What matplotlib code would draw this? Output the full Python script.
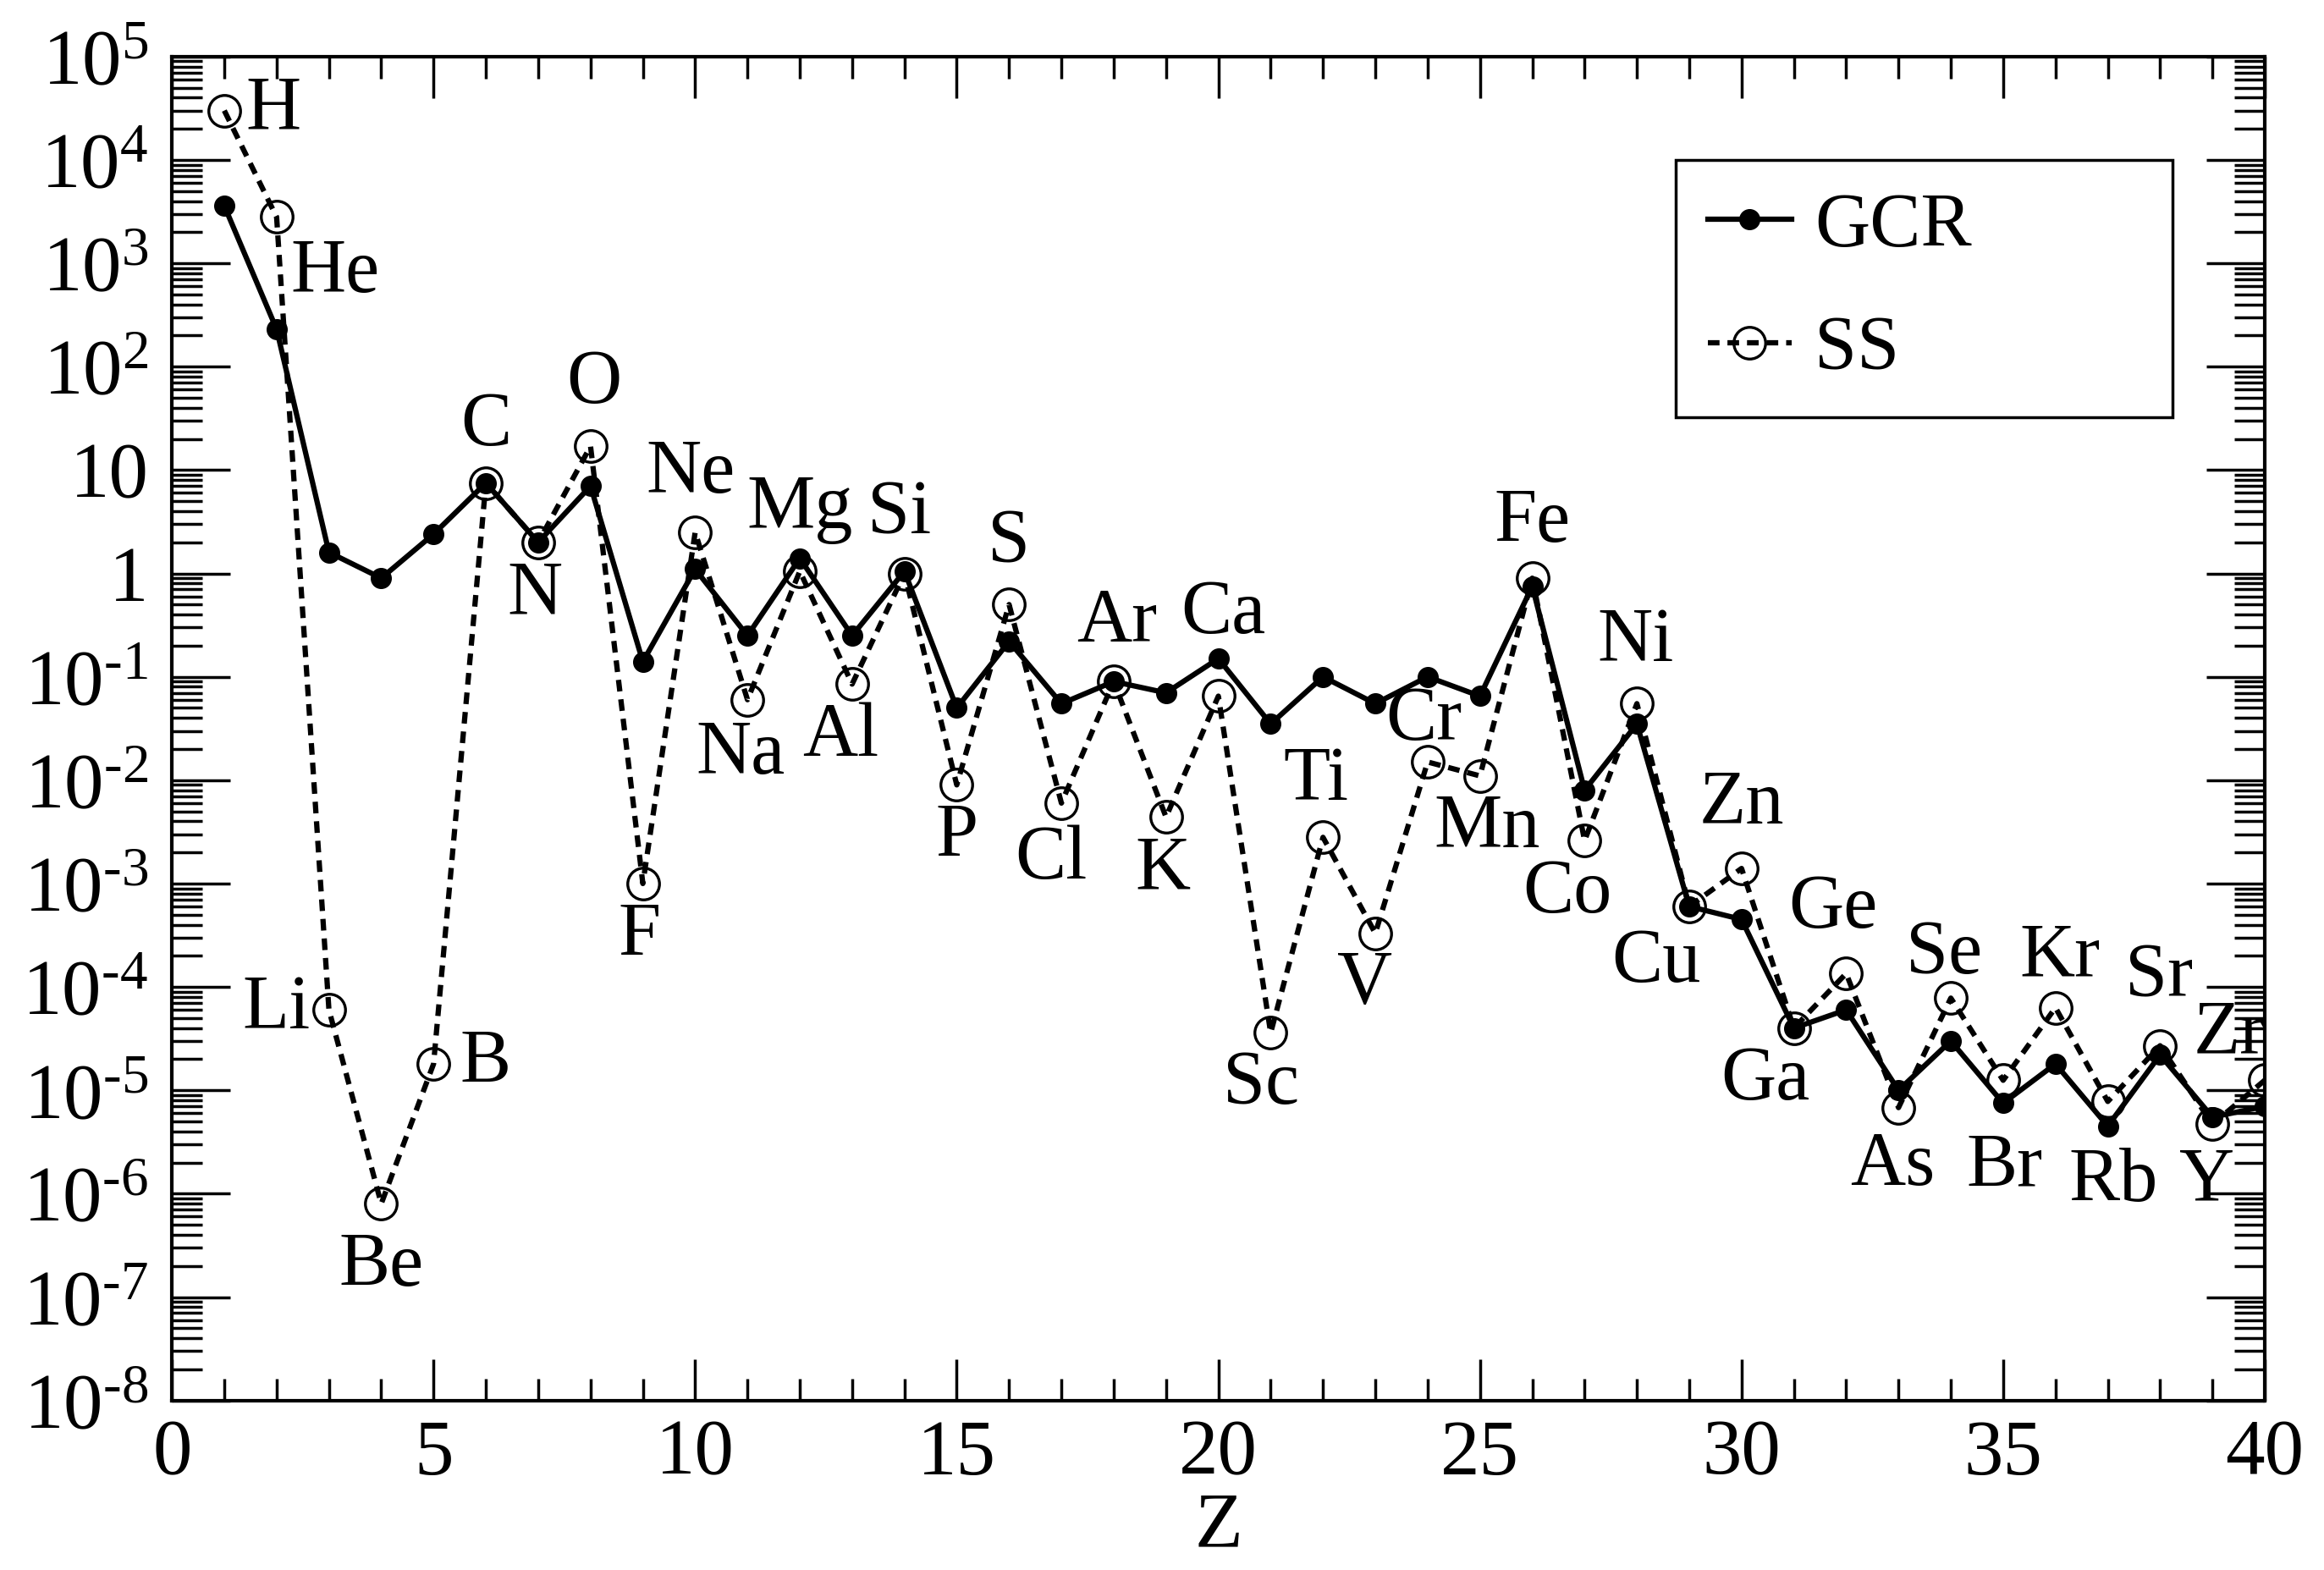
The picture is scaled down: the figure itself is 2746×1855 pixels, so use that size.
import matplotlib
matplotlib.use("Agg")
import numpy as np
import matplotlib.pyplot as plt
from matplotlib.ticker import LogLocator, FuncFormatter, MultipleLocator, NullFormatter

plt.rcParams["font.family"] = ["Liberation Serif", "DejaVu Serif"]
plt.rcParams["mathtext.fontset"] = "custom"
plt.rcParams["mathtext.rm"] = "Liberation Serif"
plt.rcParams["mathtext.it"] = "Liberation Serif:italic"

# Atomic number and element symbols
z = list(range(1, 41))
elements = ["H", "He", "Li", "Be", "B", "C", "N", "O", "F", "Ne",
            "Na", "Mg", "Al", "Si", "P", "S", "Cl", "Ar", "K", "Ca",
            "Sc", "Ti", "V", "Cr", "Mn", "Fe", "Co", "Ni", "Cu", "Zn",
            "Ga", "Ge", "As", "Se", "Br", "Kr", "Rb", "Sr", "Y", "Zr"]

# Galactic cosmic ray abundances (relative)
gcr = [3.6e3, 230, 1.6, 0.9, 2.4, 7.5, 2.0, 7.0, 0.14, 1.1,
       0.25, 1.4, 0.25, 1.05, 0.05, 0.22, 0.055, 0.09, 0.07, 0.15,
       0.035, 0.1, 0.055, 0.1, 0.065, 0.75, 0.008, 0.035, 6e-4, 4.5e-4,
       4e-5, 6e-5, 1e-5, 3e-5, 7.5e-6, 1.8e-5, 4.5e-6, 2.2e-5, 5.5e-6, 7e-6]

# Solar system abundances (relative)
ss = [3.0e4, 2.8e3, 6e-5, 8e-7, 1.8e-5, 7.5, 2.0, 17, 1e-3, 2.5,
      0.06, 1.05, 0.085, 1.0, 0.009, 0.5, 0.006, 0.09, 0.0044, 0.065,
      3.6e-5, 2.8e-3, 3.3e-4, 0.015, 0.011, 0.9, 2.6e-3, 0.055, 6e-4, 1.4e-3,
      4e-5, 1.35e-4, 6.8e-6, 7.8e-5, 1.25e-5, 6.3e-5, 7.8e-6, 2.7e-5, 4.7e-6, 1.25e-5]

# label offsets from the SS point, in points
label_offsets = [(42, 0), (50, -48), (-45, 0), (0, -54), (44, 0), (0, 48), (-3, -45), (3, 53), (-3, -45), (-4, 50),
                 (-6, -47), (0, 53), (-10, -45), (-4, 50), (0, -45), (0, 52), (-9, -48), (3, 50), (-3, -45), (4, 70),
                 (-8, -44), (-6, 48), (-9, -44), (-3, 35), (6, -45), (0, 47), (-15, -45), (-1, 52), (-28, -48), (0, 54),
                 (-24, -45), (-11, 55), (-5, -50), (-6, 37), (1, -74), (4, 43), (5, -69), (-1, 58), (-5, -49), (-30, 39)]


def ytick_fmt(val, pos):
    e = int(round(np.log10(val)))
    if e == 0:
        return "1"
    if e == 1:
        return "10"
    if e < 0:
        return "$10^{\u2010%d}$" % (-e)
    return "$10^{%d}$" % e


fig = plt.figure(figsize=(27.46, 18.55), dpi=100)
ax = fig.add_axes([0.074, 0.108, 0.9005, 0.856])

ax.plot(z, ss, linestyle=(0, (2.2, 1.5)), color="black", lw=4.5, marker="o",
        markersize=27, markerfacecolor="none", markeredgewidth=2.4, label="SS", zorder=2)
ax.plot(z, gcr, linestyle="-", color="black", lw=4.5, marker="o",
        markersize=17, label="GCR", zorder=3)

for zi, s, name, off in zip(z, ss, elements, label_offsets):
    ax.annotate(name, (zi, s), xytext=off, textcoords="offset points",
                ha="center", va="center", fontsize=65, annotation_clip=False)

ax.set_yscale("log")
ax.set_xlim(0, 40)
ax.set_ylim(1e-8, 1e5)

ax.xaxis.set_major_locator(MultipleLocator(5))
ax.xaxis.set_minor_locator(MultipleLocator(1))
ax.yaxis.set_major_locator(LogLocator(base=10, numticks=100))
ax.yaxis.set_minor_locator(LogLocator(base=10, subs=np.arange(2, 10), numticks=100))
ax.yaxis.set_major_formatter(FuncFormatter(ytick_fmt))
ax.yaxis.set_minor_formatter(NullFormatter())

ax.tick_params(which="both", direction="in", top=True, right=True, width=2.5, labelsize=67)
ax.tick_params(axis="x", which="major", length=35, pad=16)
ax.tick_params(axis="x", which="minor", length=19)
ax.tick_params(axis="y", which="major", length=50, pad=20)
ax.tick_params(axis="y", which="minor", length=26)
for sp in ax.spines.values():
    sp.set_linewidth(3)

ax.set_xlabel("Z", fontsize=67, va="baseline")
ax.xaxis.set_label_coords(0.5, -0.109)

handles, labels = ax.get_legend_handles_labels()
leg = ax.legend(handles[::-1], labels[::-1], loc="upper left",
                bbox_to_anchor=(0.7210, 0.7375, 0.2138, 0.1605), bbox_transform=fig.transFigure,
                mode="expand", borderaxespad=0, fontsize=65, fancybox=False, framealpha=1,
                edgecolor="black", handlelength=1.1, handletextpad=0.3, labelspacing=0.7,
                borderpad=0.42)
leg.get_frame().set_linewidth(2.5)

fig.savefig("out.png", dpi=100)
